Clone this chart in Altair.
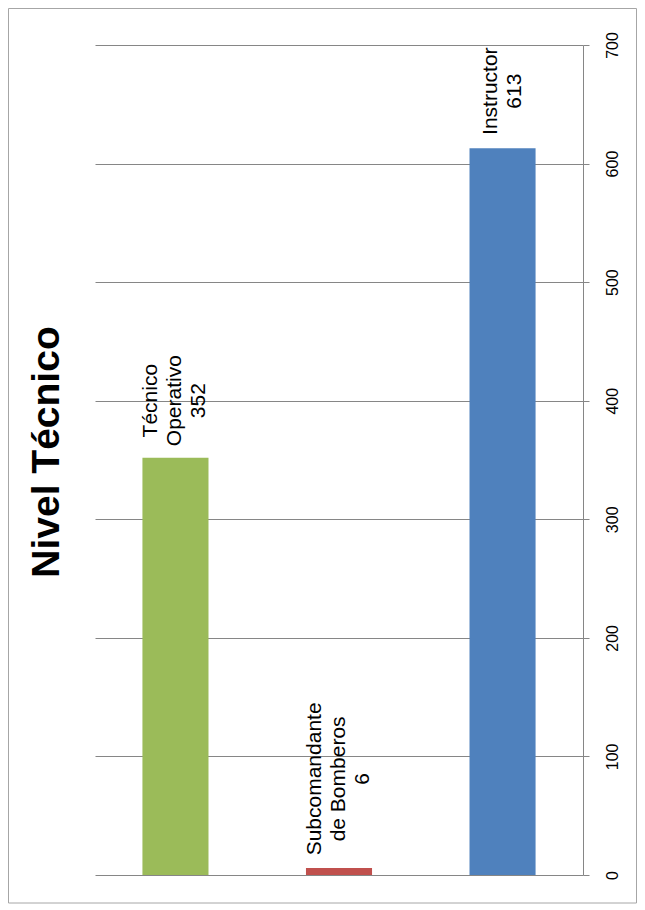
import altair as alt
import pandas as pd

# ---- data ----
categories = ["Técnico Operativo", "Subcomandante de Bomberos", "Instructor"]
label_lines = [["Técnico", "Operativo"], ["Subcomandante", "de Bomberos"], ["Instructor"]]
values = [352, 6, 613]
bar_colors = ["#9BBB59", "#C0504D", "#4F81BD"]
y_ticks = [0, 100, 200, 300, 400, 500, 600, 700]
title_text = "Nivel Técnico"

df = pd.DataFrame({
    "cat": categories,
    "value": values,
    "label": ["\n".join(lines + [str(v)]) for lines, v in zip(label_lines, values)],
})

FONT = "Liberation Sans"
GRID = "#868686"
LINE_H = 24

x_enc = alt.X("cat:N", sort=categories, axis=None,
              scale=alt.Scale(paddingInner=0.596, paddingOuter=0.29))
y_enc = alt.Y("value:Q",
              scale=alt.Scale(domain=[0, 700], nice=False),
              axis=alt.Axis(orient="right", values=y_ticks, title=None,
                            grid=True, gridColor=GRID, gridWidth=1,
                            domainColor=GRID, domainWidth=1,
                            tickColor=GRID, tickSize=6, tickWidth=1,
                            labelAngle=270, labelAlign="center", labelBaseline="top",
                            labelPadding=15, labelFont=FONT, labelFontSize=16,
                            labelColor="#000000"))

bars = alt.Chart(df).mark_bar().encode(
    x=x_enc, y=y_enc,
    color=alt.Color("cat:N", scale=alt.Scale(domain=categories, range=bar_colors), legend=None),
)

# offsets of each data label along the text direction (pixels)
label_dx = [57, 89, 57]
label_layers = [
    alt.Chart(df).transform_filter(alt.datum.cat == c).mark_text(
        angle=270, align="center", baseline="middle", dx=d,
        dy=-(len(lines)) * LINE_H / 2, lineBreak="\n",
        lineHeight=LINE_H, font=FONT, fontSize=21, color="#000000",
    ).encode(x=x_enc, y=y_enc, text="label:N")
    for c, d, lines in zip(categories, label_dx, label_lines)
]

deco = pd.DataFrame({"t": [title_text]})
title = alt.Chart(deco).mark_text(
    angle=270, align="center", baseline="alphabetic", font=FONT,
    fontSize=39, fontWeight="bold", color="#000000",
).encode(x=alt.value(-36), y=alt.value(407), text="t:N")

border = alt.Chart(deco).mark_rect(filled=False, stroke="#a6a6a6", strokeWidth=1).encode(
    x=alt.value(-86.5), x2=alt.value(541.5), y=alt.value(-36.5), y2=alt.value(858)
)

chart = alt.layer(border, bars, *label_layers, title).properties(
    width=488, height=830,
    autosize=alt.AutoSizeParams(type="none"),
    padding={"left": 87, "top": 37, "right": 54, "bottom": 29},
    background="#ffffff",
).configure_view(stroke=None)

chart.save("out.html", embed_options={"renderer": "svg", "actions": False})
